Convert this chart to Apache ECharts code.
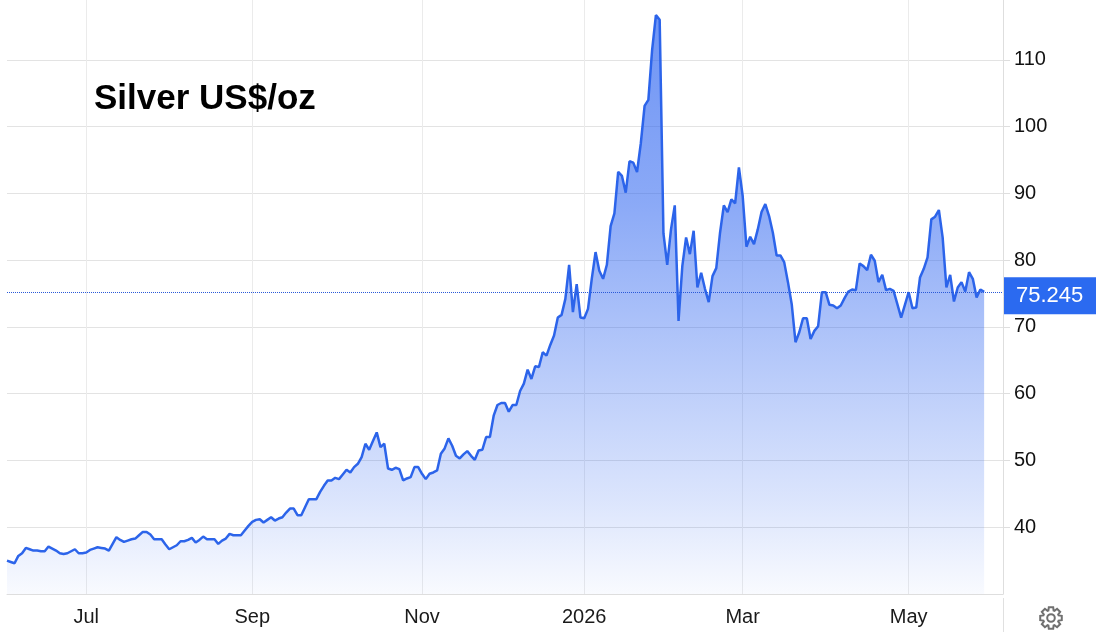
<!DOCTYPE html>
<html>
<head>
<meta charset="utf-8">
<script src="https://cdn.jsdelivr.net/npm/echarts@6/dist/echarts.min.js"></script>
<style>
html,body{margin:0;padding:0;background:#fff;}
#chart{width:1096px;height:632px;}
</style>
</head>
<body>
<div id="chart"></div>
<script>
// Months and number of trading days (weekdays) in each
const months = ['2025-06','2025-07','2025-08','2025-09','2025-10','2025-11','2025-12','2026-01','2026-02','2026-03','2026-04','2026-05','2026-06'];
const tradingDays = [21,23,21,22,23,20,23,22,20,22,22,21,5];
// Tick labels shown on the time axis
const tickLabels = {'2025-07':'Jul','2025-09':'Sep','2025-11':'Nov','2026-01':'2026','2026-03':'Mar','2026-05':'May'};
// Silver price, US$/oz, one value per trading day
const prices = [
35.0, 34.8, 34.6, 35.7, 36.1, 36.9, 36.7, 36.5, 36.5, 36.4,
36.4, 37.1, 36.8, 36.5, 36.1, 36.0, 36.1, 36.4, 36.7, 36.1,
36.1, 36.2, 36.6, 36.8, 37.0, 36.9, 36.8, 36.5, 37.5, 38.5,
38.1, 37.8, 38.0, 38.2, 38.3, 38.8, 39.3, 39.3, 38.9, 38.2,
38.2, 38.2, 37.4, 36.7, 37.0, 37.3, 37.9, 37.9, 38.1, 38.4,
37.7, 38.1, 38.6, 38.2, 38.2, 38.2, 37.5, 38.0, 38.3, 39.0,
38.8, 38.8, 38.8, 39.5, 40.2, 40.8, 41.1, 41.2, 40.7, 41.1,
41.5, 41.0, 41.3, 41.5, 42.2, 42.8, 42.8, 41.8, 41.8, 43.0,
44.2, 44.2, 44.2, 45.3, 46.2, 47.0, 47.0, 47.4, 47.2, 47.9,
48.6, 48.2, 49.0, 49.5, 50.5, 52.5, 51.6, 52.9, 54.2, 52.0,
52.5, 48.8, 48.6, 48.9, 48.7, 47.0, 47.3, 47.5, 49.0, 49.0,
48.0, 47.2, 48.0, 48.2, 48.5, 51.0, 51.8, 53.3, 52.2, 50.7,
50.3, 50.9, 51.4, 50.7, 50.1, 51.5, 51.6, 53.5, 53.5, 56.7,
58.3, 58.6, 58.6, 57.3, 58.3, 58.3, 60.4, 61.5, 63.6, 62.2,
64.1, 64.0, 66.2, 65.7, 67.3, 68.7, 71.4, 71.8, 74.2, 79.3,
72.2, 76.4, 71.4, 71.3, 72.7, 77.2, 81.2, 78.4, 77.2, 79.3,
85.1, 87.0, 93.2, 92.6, 90.1, 94.8, 94.6, 93.2, 97.5, 103.1,
104.0, 111.5, 116.7, 116.0, 84.0, 79.3, 84.6, 88.2, 70.9, 79.1,
83.4, 80.9, 84.4, 75.9, 78.1, 75.7, 73.7, 77.6, 78.8, 84.1,
88.2, 87.2, 89.1, 88.5, 93.9, 89.6, 82.0, 83.5, 82.4, 84.6,
87.2, 88.4, 86.6, 84.1, 80.7, 80.7, 79.7, 76.7, 73.4, 67.7,
69.2, 71.3, 71.3, 68.2, 69.4, 70.1, 75.2, 75.2, 73.3, 73.2,
72.8, 73.2, 74.3, 75.3, 75.6, 75.5, 79.5, 79.1, 78.5, 80.8,
79.9, 76.7, 77.8, 75.5, 75.7, 75.4, 73.4, 71.4, 73.3, 75.2,
72.8, 72.9, 77.4, 78.7, 80.4, 86.1, 86.5, 87.5, 83.4, 75.9,
77.8, 73.8, 75.9, 76.7, 75.3, 78.2, 77.2, 74.4, 75.6, 75.245
];
const lastPrice = 75.245;
const titleText = 'Silver US$/oz';

// Build category list: one entry per trading day
const categories = [];
months.forEach((m, k) => {
  for (let d = 1; d <= tradingDays[k]; d++) categories.push(m + '-' + String(d).padStart(2, '0'));
});
const isTick = (idx, val) => val.endsWith('-01') && tickLabels[val.slice(0, 7)] !== undefined;

// Gear icon outline points
function gearPoints(cx, cy, ro, ri, n) {
  const pts = [];
  for (let k = 0; k < n; k++) {
    const a = k * 2 * Math.PI / n - Math.PI / 2;
    [[ri, a - 0.33], [ro, a - 0.2], [ro, a + 0.2], [ri, a + 0.33]].forEach(q => {
      pts.push([cx + q[0] * Math.cos(q[1]), cy + q[0] * Math.sin(q[1])]);
    });
  }
  return pts;
}

const chart = echarts.init(document.getElementById('chart'), null, {renderer: 'canvas'});
chart.setOption({
  animation: false,
  backgroundColor: '#ffffff',
  title: {
    text: titleText,
    left: 89,
    top: 77,
    textStyle: {fontFamily: 'Liberation Sans', fontSize: 35, fontWeight: 'bold', color: '#000'}
  },
  grid: {left: 7, right: 93, top: -7, bottom: 38, containLabel: false, outerBoundsMode: 'none'},
  xAxis: {
    type: 'category',
    data: categories,
    boundaryGap: false,
    axisLine: {show: true, lineStyle: {color: '#dedede', width: 1}},
    axisTick: {show: false},
    splitLine: {show: true, interval: isTick, lineStyle: {color: '#ebebeb', width: 1}},
    axisLabel: {
      interval: isTick,
      formatter: v => tickLabels[v.slice(0, 7)] || '',
      fontFamily: 'Liberation Sans',
      fontSize: 20,
      color: '#1a1a1a',
      margin: 13
    }
  },
  yAxis: {
    type: 'value',
    position: 'right',
    min: 30,
    max: 120,
    interval: 10,
    axisLine: {show: true, lineStyle: {color: '#dedede', width: 1}},
    axisTick: {show: true, length: 7, lineStyle: {color: '#dedede'}},
    splitLine: {show: true, lineStyle: {color: '#e3e3e3', width: 1}},
    axisLabel: {
      showMinLabel: false,
      showMaxLabel: true,
      fontFamily: 'Liberation Sans',
      fontSize: 20,
      color: '#111',
      margin: 11
    }
  },
  series: [{
    type: 'line',
    data: prices,
    symbol: 'none',
    smooth: false,
    lineStyle: {color: '#2c64ea', width: 2.5},
    areaStyle: {
      color: {
        type: 'linear', x: 0, y: 0, x2: 0, y2: 595, global: true,
        colorStops: [
          {offset: 0, color: 'rgba(42,98,240,0.98)'},
          {offset: 0.34, color: 'rgba(42,98,240,0.78)'},
          {offset: 0.84, color: 'rgba(42,98,240,0.24)'},
          {offset: 1, color: 'rgba(42,98,240,0.04)'}
        ]
      }
    },
    markLine: {
      silent: true,
      symbol: 'none',
      data: [{yAxis: lastPrice}],
      lineStyle: {color: '#2a5ad8', type: 'dotted', width: 1},
      label: {
        show: true,
        position: 'end',
        distance: 1,
        offset: [0, 4],
        formatter: () => lastPrice.toFixed(3),
        backgroundColor: '#2b6af0',
        color: '#fff',
        fontFamily: 'Liberation Sans',
        fontSize: 22,
        padding: [8, 13, 7, 12]
      }
    }
  }],
  graphic: [
    {type: 'line', shape: {x1: 1003.5, y1: 598, x2: 1003.5, y2: 632}, style: {stroke: '#e0e0e0', lineWidth: 1}},
    {type: 'polygon', shape: {points: gearPoints(1051, 618, 11, 8, 8)}, style: {fill: 'none', stroke: '#707070', lineWidth: 2}},
    {type: 'circle', shape: {cx: 1051, cy: 618, r: 3.8}, style: {fill: 'none', stroke: '#707070', lineWidth: 2}}
  ]
});
</script>
</body>
</html>
